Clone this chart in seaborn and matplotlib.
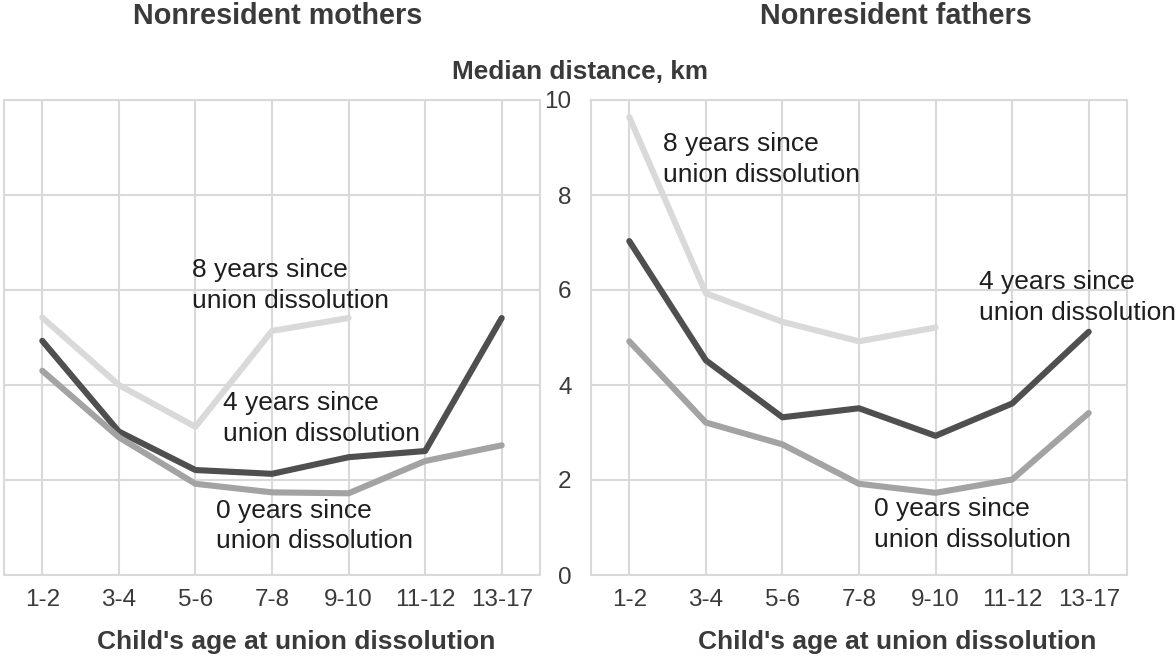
import matplotlib.pyplot as plt
import pandas as pd
import seaborn as sns

# Data (median distance, km)
ages = ["1-2", "3-4", "5-6", "7-8", "9-10", "11-12", "13-17"]

mothers_0 = [4.3, 2.9, 1.92, 1.74, 1.72, 2.4, 2.73]
mothers_4 = [4.93, 3.02, 2.21, 2.13, 2.48, 2.61, 5.41]
mothers_8 = [5.42, 4.0, 3.12, 5.14, 5.41]

fathers_0 = [4.92, 3.21, 2.75, 1.92, 1.73, 2.01, 3.41]
fathers_4 = [7.03, 4.52, 3.32, 3.51, 2.93, 3.61, 5.12]
fathers_8 = [9.64, 5.93, 5.33, 4.92, 5.21]

series_names = ["0 years", "4 years", "8 years"]
label_text = "{} since\nunion dissolution"

palette = {"0 years": "#a3a3a3", "4 years": "#4f4f4f", "8 years": "#d9d9d9"}


def to_long(vals0, vals4, vals8):
    rows = []
    for name, vals in zip(series_names, [vals0, vals4, vals8]):
        for age, v in zip(ages, vals):
            rows.append({"age": age, "km": v, "series": name})
    return pd.DataFrame(rows)


df_m = to_long(mothers_0, mothers_4, mothers_8)
df_f = to_long(fathers_0, fathers_4, fathers_8)

sns.set_theme(style="whitegrid")
plt.rcParams['font.family'] = ['Liberation Sans', 'DejaVu Sans']

fig, axes = plt.subplots(1, 2, figsize=(11.76, 6.57), dpi=100)
W, H = 1176, 657
axes[0].set_position([4 / W, 1 - 575 / H, 536 / W, 475 / H])
axes[1].set_position([591 / W, 1 - 575 / H, 536 / W, 475 / H])

grid_c = "#d9d9d9"
txt_c = "#3a3a3a"

for ax, df in zip(axes, [df_m, df_f]):
    sns.lineplot(data=df, x="age", y="km", hue="series",
                 hue_order=["8 years", "4 years", "0 years"],
                 palette=palette, linewidth=4.4, legend=False, ax=ax,
                 sort=False)
    ax.set_xlim(-0.5, 6.5)
    ax.set_ylim(0, 10)
    ax.set_yticks([0, 2, 4, 6, 8, 10])
    ax.grid(True, color=grid_c, linewidth=1.5)
    ax.set_axisbelow(True)
    for sp in ax.spines.values():
        sp.set_visible(True)
        sp.set_color(grid_c)
        sp.set_linewidth(1.5)
    ax.tick_params(axis='x', length=0, pad=10, labelsize=17.5, labelcolor=txt_c)
    ax.set_ylabel("")
    ax.set_xlabel("Child's age at union dissolution", fontsize=19,
                  fontweight='bold', color=txt_c)
    ax.xaxis.label.set_va('center')

axes[0].tick_params(axis='y', length=0, labelleft=False)
axes[1].tick_params(axis='y', length=0, pad=14, labelsize=17.5, labelcolor=txt_c)

axes[0].xaxis.set_label_coords(0.545, -0.141)
axes[1].xaxis.set_label_coords(0.571, -0.141)

# panel titles
axes[0].text(0.511, 1.177, "Nonresident mothers", transform=axes[0].transAxes,
             ha='center', va='center', fontsize=20.7, fontweight='bold', color=txt_c)
axes[1].text(0.569, 1.177, "Nonresident fathers", transform=axes[1].transAxes,
             ha='center', va='center', fontsize=20.7, fontweight='bold', color=txt_c)
fig.text(580 / W, 1 - 72 / H, "Median distance, km", ha='center', va='center',
         fontsize=18.8, fontweight='bold', color=txt_c)

# inline series labels
lab_kw = dict(ha='left', va='center', fontsize=19, color="#1e1e1e",
              linespacing=1.35)
axes[0].text(1.96, 6.1, label_text.format("8 years"), **lab_kw)
axes[0].text(2.36, 3.3, label_text.format("4 years"), **lab_kw)
axes[0].text(2.27, 1.03, label_text.format("0 years"), **lab_kw)
axes[1].text(0.44, 8.75, label_text.format("8 years"), **lab_kw)
axes[1].text(4.57, 5.84, label_text.format("4 years"), clip_on=False, **lab_kw)
axes[1].text(3.2, 1.06, label_text.format("0 years"), **lab_kw)

fig.savefig("out.png", dpi=100)
